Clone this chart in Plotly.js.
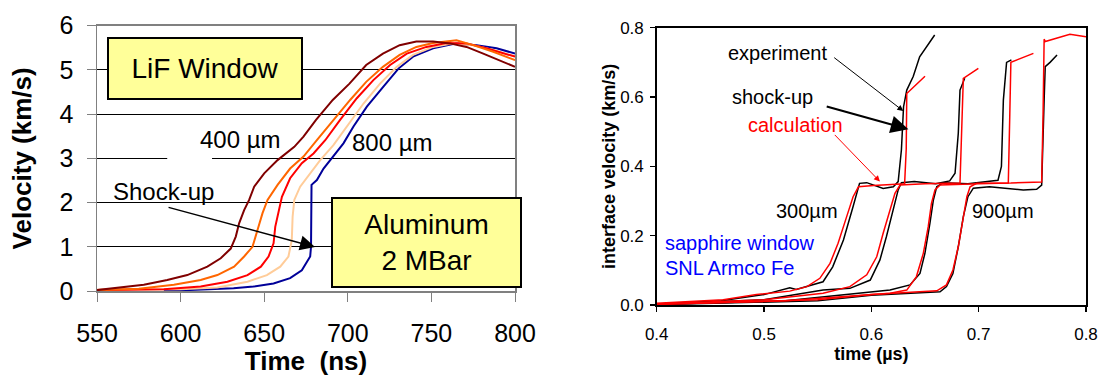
<!DOCTYPE html>
<html>
<head>
<meta charset="utf-8">
<script src="https://cdn.plot.ly/plotly-3.0.1.min.js"></script>
<style>
  html, body { margin: 0; padding: 0; background: #ffffff; }
  #chart { width: 1099px; height: 377px; }
</style>
</head>
<body>
<div id="chart"></div>
<script>
// ---- Left panel: LiF window, aluminum at 2 MBar (time in ns, velocity in km/s) ----
const alT400 = [550,564,578,592,604,616,624,630,633,635,638,641,644,650,658,668,673.5,681,691,701,711,721,731,741,751,761,771,781,791,800];
const alV400 = [0.02,0.08,0.14,0.25,0.36,0.55,0.74,0.96,1.23,1.53,1.83,2.06,2.36,2.66,2.96,3.26,3.49,3.87,4.32,4.69,5.11,5.37,5.56,5.64,5.64,5.60,5.52,5.37,5.22,5.07];

const alTOrange = [550,575,596,612,622,632,638,643,646,649,652,658,665.5,673.5,681.5,691.4,701.4,711,721,731,741,751,765,775,787,800];
const alVOrange = [0.02,0.05,0.14,0.25,0.36,0.55,0.78,1.0,1.38,1.76,2.06,2.40,2.77,3.04,3.41,3.87,4.32,4.73,5.07,5.34,5.52,5.61,5.67,5.56,5.41,5.22];

const alTRed = [550,590,612,628,640,648,652.6,655.6,656.6,658.6,660.6,665.5,672.5,679.5,686.5,695.4,705.4,715.3,725.3,735.3,747,759,771,783,800];
const alVRed = [0.02,0.04,0.1,0.21,0.36,0.55,0.78,1.08,1.45,1.83,2.13,2.55,2.89,3.11,3.41,3.87,4.36,4.77,5.11,5.37,5.52,5.61,5.60,5.49,5.30];

const alTPeach = [550,600,622,640,651.6,659.6,664.5,666.5,667,668,671.5,677.5,683.5,691.4,699.4,709.4,719.3,729.3,739,751,763,775,787,800];
const alVPeach = [0.03,0.04,0.08,0.21,0.36,0.55,0.78,1.15,1.68,2.06,2.36,2.66,2.96,3.30,3.72,4.24,4.69,5.07,5.34,5.52,5.60,5.56,5.45,5.30];

const alT800 = [590,631.7,643.6,655.6,665.5,672.5,677.5,678,678.3,681.5,685.5,691.4,697.4,703.4,711.4,721.3,730.3,739,751,765,777,789,800];
const alV800 = [0.0,0.06,0.10,0.17,0.29,0.47,0.78,1.0,2.40,2.51,2.77,3.04,3.34,3.72,4.17,4.62,5.03,5.30,5.49,5.60,5.56,5.49,5.37];

const leftXTicks = [550,600,650,700,750,800];
const leftYTicks = [0,1,2,3,4,5,6];

// ---- Right panel: sapphire window, SNL Armco Fe (time in µs, velocity in km/s) ----
const calcT300 = [0.40,0.462,0.493,0.524,0.540,0.552,0.5615,0.569,0.577,0.583,0.588,0.602,0.631,0.6325,0.633,0.650];
const calcV300 = [0.005,0.015,0.03,0.04,0.053,0.077,0.12,0.178,0.255,0.3125,0.341,0.345,0.35,0.45,0.61,0.66];
const expT300 = [0.40,0.46,0.50,0.524,0.53,0.555,0.564,0.574,0.583,0.589,0.5957,0.611,0.6205,0.625,0.628,0.630,0.633,0.639,0.645,0.659];
const expV300 = [0.003,0.012,0.03,0.05,0.045,0.067,0.11,0.1875,0.284,0.351,0.353,0.336,0.341,0.356,0.447,0.572,0.62,0.659,0.716,0.779];

const calcT500 = [0.40,0.50,0.555,0.58,0.5957,0.605,0.611,0.6174,0.622,0.6267,0.65,0.6826,0.684,0.6857,0.6997];
const calcV500 = [0.003,0.015,0.034,0.053,0.087,0.139,0.207,0.274,0.322,0.346,0.35,0.352,0.5,0.654,0.683];
const expT500 = [0.40,0.50,0.555,0.58,0.599,0.608,0.614,0.6205,0.625,0.628,0.64,0.66,0.673,0.678,0.681,0.6826,0.687];
const expV500 = [0.002,0.015,0.043,0.048,0.072,0.13,0.197,0.274,0.332,0.353,0.356,0.35,0.358,0.38,0.495,0.62,0.654];

const calcT700 = [0.40,0.52,0.6174,0.633,0.642,0.6484,0.653,0.656,0.6593,0.664,0.70,0.7276,0.729,0.730,0.751];
const calcV700 = [0.002,0.012,0.034,0.043,0.082,0.149,0.226,0.293,0.332,0.346,0.35,0.352,0.55,0.70,0.726];
const expT700 = [0.40,0.52,0.6174,0.636,0.6453,0.6499,0.6546,0.6578,0.6609,0.667,0.69,0.718,0.7212,0.723,0.726,0.7305];
const expV700 = [0.002,0.012,0.043,0.058,0.091,0.149,0.236,0.303,0.341,0.353,0.35,0.36,0.40,0.591,0.70,0.707];

const calcT900 = [0.40,0.55,0.60,0.6484,0.661,0.67,0.676,0.681,0.6857,0.689,0.692,0.698,0.73,0.7587,0.760,0.761,0.762,0.785,0.80];
const calcV900 = [0.002,0.015,0.03,0.038,0.041,0.058,0.101,0.168,0.255,0.3125,0.341,0.351,0.352,0.355,0.55,0.767,0.76,0.781,0.774];
const expT900 = [0.40,0.55,0.60,0.6484,0.664,0.67,0.676,0.681,0.6857,0.690,0.695,0.71,0.7261,0.7416,0.754,0.7587,0.761,0.762,0.7665,0.773];
const expV900 = [0.001,0.012,0.028,0.036,0.038,0.053,0.091,0.168,0.255,0.3125,0.337,0.341,0.337,0.332,0.334,0.346,0.591,0.6875,0.70,0.721];

const rightXTicks = [0.4,0.5,0.6,0.7,0.8];
const rightYTicks = [0.0,0.2,0.4,0.6,0.8];

const FONT = 'Liberation Sans, Arial, Helvetica, sans-serif';

function leftLine(x, y, color, name) {
  return { x, y, name, type: 'scatter', mode: 'lines', xaxis: 'x', yaxis: 'y',
           line: { color, width: 2 }, hoverinfo: 'skip' };
}
function rightLine(x, y, color, name) {
  return { x, y, name, type: 'scatter', mode: 'lines', xaxis: 'x2', yaxis: 'y2',
           line: { color, width: 1.5 }, hoverinfo: 'skip' };
}

const traces = [
  leftLine(alT800, alV800, '#000099', '800 µm'),
  leftLine(alTPeach, alVPeach, '#FFCC99', 'peach'),
  leftLine(alTRed, alVRed, '#FF0000', 'red'),
  leftLine(alTOrange, alVOrange, '#FF6600', 'orange'),
  leftLine(alT400, alV400, '#800000', '400 µm'),

  rightLine(expT900, expV900, '#000000', 'exp 900'),
  rightLine(expT700, expV700, '#000000', 'exp 700'),
  rightLine(expT500, expV500, '#000000', 'exp 500'),
  rightLine(expT300, expV300, '#000000', 'exp 300'),
  rightLine(calcT900, calcV900, '#FF0000', 'calc 900'),
  rightLine(calcT700, calcV700, '#FF0000', 'calc 700'),
  rightLine(calcT500, calcV500, '#FF0000', 'calc 500'),
  rightLine(calcT300, calcV300, '#FF0000', 'calc 300')
];

const W = 1099, H = 377;
const px = v => v / W;
const py = v => 1 - v / H;

const annotations = [
  // left panel
  { xref: 'x', yref: 'y', x: 614.6, y: 5.03, text: 'LiF Window', showarrow: false,
    font: { family: FONT, size: 28, color: '#000' }, bgcolor: '#FFFF99',
    bordercolor: '#000', borderwidth: 2, borderpad: 0, width: 192, height: 59 },
  { xref: 'x', yref: 'y', x: 747, y: 1.10, text: 'Aluminum<br>2 MBar', showarrow: false,
    font: { family: FONT, size: 28, color: '#000' }, bgcolor: '#FFFF99',
    bordercolor: '#000', borderwidth: 2, borderpad: 0, width: 187, height: 87 },
  { xref: 'x', yref: 'y', x: 589.5, y: 2.24, text: 'Shock-up', showarrow: false,
    font: { family: FONT, size: 24, color: '#000' } },
  { xref: 'x', yref: 'y', x: 680.4, y: 0.995, axref: 'x', ayref: 'y', ax: 591.9, ay: 1.90,
    text: '', showarrow: true, arrowhead: 2, arrowsize: 2, arrowwidth: 1.5, arrowcolor: '#000', standoff: 0 },
  { xref: 'x', yref: 'y', x: 636.1, y: 3.42, text: '400 µm', showarrow: false,
    font: { family: FONT, size: 24, color: '#000' } },
  { xref: 'x', yref: 'y', x: 727, y: 3.35, text: '800 µm', showarrow: false,
    font: { family: FONT, size: 24, color: '#000' } },

  // right panel
  { xref: 'x2', yref: 'y2', x: 0.5126, y: 0.727, text: 'experiment', showarrow: false,
    font: { family: FONT, size: 20, color: '#000' } },
  { xref: 'x2', yref: 'y2', x: 0.5081, y: 0.600, text: 'shock-up', showarrow: false,
    font: { family: FONT, size: 20, color: '#000' } },
  { xref: 'x2', yref: 'y2', x: 0.5289, y: 0.519, text: 'calculation', showarrow: false,
    font: { family: FONT, size: 20, color: '#FF0000' } },
  { xref: 'x2', yref: 'y2', x: 0.5398, y: 0.271, text: '300µm', showarrow: false,
    font: { family: FONT, size: 20, color: '#000' } },
  { xref: 'x2', yref: 'y2', x: 0.7224, y: 0.271, text: '900µm', showarrow: false,
    font: { family: FONT, size: 20, color: '#000' } },
  { xref: 'x2', yref: 'y2', x: 0.4056, y: 0.179, xanchor: 'left', text: 'sapphire window', showarrow: false,
    font: { family: FONT, size: 20, color: '#0000FF' } },
  { xref: 'x2', yref: 'y2', x: 0.4056, y: 0.107, xanchor: 'left', text: 'SNL Armco Fe', showarrow: false,
    font: { family: FONT, size: 20, color: '#0000FF' } },
  { xref: 'x2', yref: 'y2', x: 0.6298, y: 0.5596, axref: 'x2', ayref: 'y2', ax: 0.564, ay: 0.717,
    text: '', showarrow: true, arrowhead: 2, arrowsize: 1.2, arrowwidth: 1, arrowcolor: '#000', standoff: 0 },
  { xref: 'x2', yref: 'y2', x: 0.6345, y: 0.507, axref: 'x2', ayref: 'y2', ax: 0.557, ay: 0.574,
    text: '', showarrow: true, arrowhead: 2, arrowsize: 1.6, arrowwidth: 2.2, arrowcolor: '#000', standoff: 0 },
  { xref: 'x2', yref: 'y2', x: 0.608, y: 0.356, axref: 'x2', ayref: 'y2', ax: 0.5646, ay: 0.495,
    text: '', showarrow: true, arrowhead: 2, arrowsize: 1.2, arrowwidth: 1, arrowcolor: '#FF0000', standoff: 0 }
];

const shapes = [
  // white break in the 3 km/s grid line behind the thickness label
  { type: 'rect', xref: 'x', yref: 'y', x0: 592, x1: 618.8, y0: 2.96, y1: 3.04,
    fillcolor: '#ffffff', line: { width: 0 }, layer: 'between' }
];

const layout = {
  width: W, height: H,
  margin: { l: 0, r: 0, t: 0, b: 0 },
  paper_bgcolor: '#ffffff', plot_bgcolor: '#ffffff',
  showlegend: false,
  font: { family: FONT, color: '#000' },
  xaxis: {
    domain: [px(97), px(515)], range: [550, 800], anchor: 'y',
    tickvals: leftXTicks, ticks: 'outside', ticklen: 9, tickcolor: '#808080', tickwidth: 1,
    ticklabelstandoff: 10,
    showgrid: false, zeroline: false, showline: true, linecolor: '#808080', linewidth: 1.5, mirror: true,
    tickfont: { family: FONT, size: 25, color: '#000' },
    title: { text: '<b>Time  (ns)</b>', font: { family: FONT, size: 26, color: '#000' }, standoff: 3 }
  },
  yaxis: {
    domain: [py(291), py(25.7)], range: [0, 6], anchor: 'x',
    tickvals: leftYTicks, ticks: 'outside', ticklen: 9, tickcolor: '#808080', tickwidth: 1,
    ticklabelstandoff: 8,
    showgrid: true, gridcolor: '#000000', gridwidth: 1,
    zeroline: false, showline: true, linecolor: '#808080', linewidth: 1.5, mirror: true,
    tickfont: { family: FONT, size: 25, color: '#000' },
    title: { text: '<b>Velocity (km/s)</b>', font: { family: FONT, size: 26, color: '#000' }, standoff: 20 }
  },
  xaxis2: {
    domain: [px(656.7), px(1086)], range: [0.4, 0.8], anchor: 'y2',
    tickvals: rightXTicks, tickformat: '.1f', ticks: 'outside', ticklen: 5, tickcolor: '#000', tickwidth: 1.5,
    ticklabelstandoff: 8,
    showgrid: false, zeroline: false, showline: true, linecolor: '#000', linewidth: 1.5, mirror: true,
    tickfont: { family: FONT, size: 17, color: '#000' },
    title: { text: '<b>time (µs)</b>', font: { family: FONT, size: 18, color: '#000' }, standoff: 0 }
  },
  yaxis2: {
    domain: [py(305), py(27.7)], range: [0, 0.8], anchor: 'x2',
    tickvals: rightYTicks, tickformat: '.1f', ticks: 'outside', ticklen: 5, tickcolor: '#000', tickwidth: 1.5,
    ticklabelstandoff: 3,
    showgrid: false, zeroline: false, showline: true, linecolor: '#000', linewidth: 1.5, mirror: true,
    tickfont: { family: FONT, size: 17, color: '#000' },
    title: { text: '<b>interface velocity (km/s)</b>', font: { family: FONT, size: 18, color: '#000' }, standoff: 0 }
  },
  annotations,
  shapes
};

Plotly.newPlot('chart', traces, layout, { staticPlot: true, displayModeBar: false });
</script>
</body>
</html>
